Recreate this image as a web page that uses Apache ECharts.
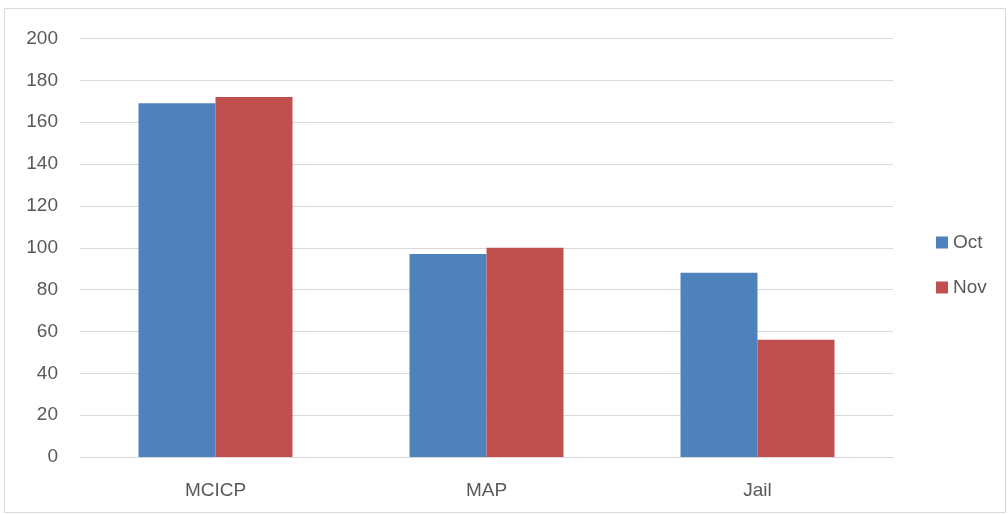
<!DOCTYPE html>
<html>
<head>
<meta charset="utf-8">
<script src="https://cdn.jsdelivr.net/npm/echarts@6/dist/echarts.min.js"></script>
<style>
  html, body { margin: 0; padding: 0; background: #fff; }
  #chart { width: 1008px; height: 514px; }
</style>
</head>
<body>
<div id="chart"></div>
<script>
const categories = ["MCICP", "MAP", "Jail"];
const octValues = [169, 97, 88];
const novValues = [172, 100, 56];
const yTicks = { min: 0, max: 200, interval: 20 };

const chart = echarts.init(document.getElementById("chart"));
const textColor = "#595959";
const font = "Liberation Sans";

chart.setOption({
  backgroundColor: "#ffffff",
  animation: false,
  graphic: [
    {
      type: "rect",
      shape: { x: 4.5, y: 8.5, width: 1001, height: 504 },
      style: { fill: "none", stroke: "#d9d9d9", lineWidth: 1 },
    },
  ],
  grid: { left: 80, right: 115, top: 38.5, bottom: 57 },
  legend: {
    orient: "vertical",
    left: 931,
    top: 228,
    itemWidth: 12,
    itemHeight: 12,
    itemGap: 26,
    icon: "rect",
    textStyle: { color: textColor, fontSize: 19, fontFamily: font },
    data: ["Oct", "Nov"],
  },
  xAxis: {
    type: "category",
    data: categories,
    axisLine: { lineStyle: { color: "#d9d9d9", width: 1 } },
    axisTick: { show: false },
    axisLabel: { color: textColor, fontSize: 19, fontFamily: font, margin: 24 },
  },
  yAxis: {
    type: "value",
    min: yTicks.min,
    max: yTicks.max,
    interval: yTicks.interval,
    axisLine: { show: false },
    axisTick: { show: false },
    splitLine: { lineStyle: { color: "#d9d9d9", width: 1 } },
    axisLabel: { color: textColor, fontSize: 19, fontFamily: font, margin: 22 },
  },
  series: [
    {
      name: "Oct",
      type: "bar",
      data: octValues,
      barWidth: 77,
      barGap: "0%",
      itemStyle: { color: "#4f81bd" },
    },
    {
      name: "Nov",
      type: "bar",
      data: novValues,
      barWidth: 77,
      barGap: "0%",
      itemStyle: { color: "#c0504d" },
    },
  ],
});
</script>
</body>
</html>
